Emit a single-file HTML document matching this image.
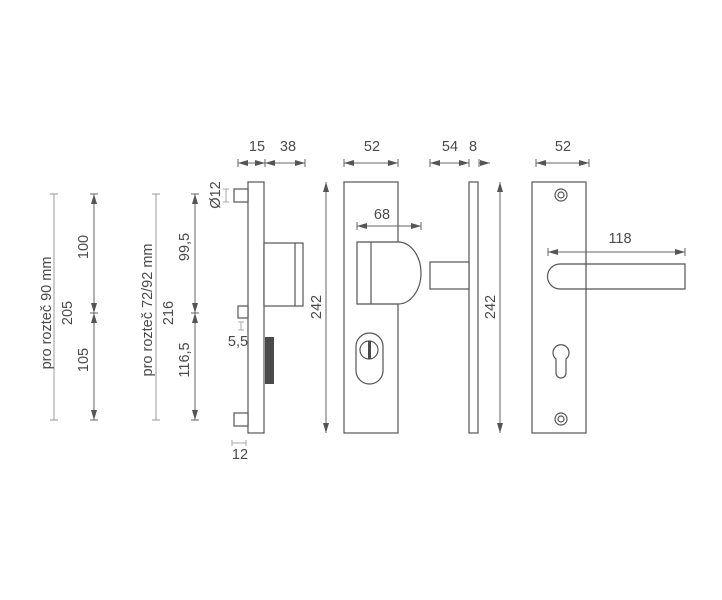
<!DOCTYPE html>
<html><head><meta charset="utf-8"><style>
html,body{margin:0;padding:0;background:#fff;}
svg{display:block;}
text{font-family:"Liberation Sans",sans-serif;font-size:14.5px;fill:#4a4a4a;}
</style></head><body>
<svg width="722" height="600" viewBox="0 0 722 600" xmlns="http://www.w3.org/2000/svg">
<defs>
<marker id="a" viewBox="0 0 10 6" refX="10" refY="3" markerWidth="10" markerHeight="6" orient="auto-start-reverse" markerUnits="userSpaceOnUse"><path d="M0,0 L10,3 L0,6 z" fill="#555"/></marker>
</defs>
<g stroke="#555" stroke-width="1.2" fill="#fff">
<rect x="248" y="182" width="16" height="251"/>
<rect x="234" y="189" width="14" height="13"/>
<rect x="238" y="306" width="10" height="12"/>
<rect x="234" y="413" width="14" height="13"/>
<rect x="264" y="243" width="39" height="63"/>
<line x1="295" y1="243" x2="295" y2="306"/>
<rect x="344" y="182" width="54" height="251"/>
<path d="M357,242 L398,242 A23,31 0 0 1 398,304 L357,304 Z"/>
<line x1="371" y1="242" x2="371" y2="304"/>
<rect x="356" y="333" width="27" height="51" rx="13.5"/>
<circle cx="369" cy="350" r="9"/>
<rect x="469" y="182" width="9" height="251"/>
<rect x="430" y="262" width="39" height="27"/>
<rect x="532" y="182" width="54" height="251"/>
<path d="M560,264 L685,264 L685,289 L560,289 A12.5,12.5 0 0 1 560,264 Z" fill="none"/>
<circle cx="561" cy="195" r="6"/><circle cx="561" cy="195" r="3"/>
<circle cx="561" cy="419" r="6"/><circle cx="561" cy="419" r="3"/>
<path d="M556,359 A8,8 0 1 1 566,359 L566,373 A5,5 0 0 1 556,373 Z"/>
</g>
<rect x="265" y="337" width="9" height="47" fill="#4a4a4a"/>
<rect x="368" y="341" width="3" height="18" fill="#4a4a4a"/>
<g stroke="#999" stroke-width="1" fill="none">
<line x1="54" y1="194" x2="54" y2="420"/><line x1="50" y1="194" x2="58" y2="194"/><line x1="50" y1="420" x2="58" y2="420"/>
<line x1="156" y1="194" x2="156" y2="420"/><line x1="152" y1="194" x2="160" y2="194"/><line x1="152" y1="420" x2="160" y2="420"/>
</g>
<g stroke="#666" stroke-width="1" fill="none">
<line x1="94" y1="194" x2="94" y2="313" marker-start="url(#a)" marker-end="url(#a)"/>
<line x1="94" y1="313" x2="94" y2="420" marker-start="url(#a)" marker-end="url(#a)"/>
<line x1="90" y1="194" x2="98" y2="194"/><line x1="90" y1="313" x2="98" y2="313"/><line x1="90" y1="420" x2="98" y2="420"/>
<line x1="195" y1="194" x2="195" y2="313" marker-start="url(#a)" marker-end="url(#a)"/>
<line x1="195" y1="313" x2="195" y2="420" marker-start="url(#a)" marker-end="url(#a)"/>
<line x1="191" y1="194" x2="199" y2="194"/><line x1="191" y1="313" x2="199" y2="313"/><line x1="191" y1="420" x2="199" y2="420"/>
<line x1="238" y1="163" x2="265" y2="163" marker-start="url(#a)" marker-end="url(#a)"/>
<line x1="265" y1="163" x2="305" y2="163" marker-start="url(#a)" marker-end="url(#a)"/>
<line x1="238" y1="159" x2="238" y2="167"/><line x1="265" y1="159" x2="265" y2="167"/><line x1="305" y1="159" x2="305" y2="167"/>
<line x1="344" y1="163" x2="398" y2="163" marker-start="url(#a)" marker-end="url(#a)"/>
<line x1="344" y1="159" x2="344" y2="167"/><line x1="398" y1="159" x2="398" y2="167"/>
<line x1="430" y1="163" x2="469" y2="163" marker-start="url(#a)" marker-end="url(#a)"/>
<line x1="479" y1="163" x2="490" y2="163" marker-end="url(#a)"/>
<line x1="430" y1="159" x2="430" y2="167"/><line x1="469" y1="159" x2="469" y2="167"/><line x1="479" y1="159" x2="479" y2="167"/>
<line x1="536" y1="163" x2="589" y2="163" marker-start="url(#a)" marker-end="url(#a)"/>
<line x1="536" y1="159" x2="536" y2="167"/><line x1="589" y1="159" x2="589" y2="167"/>
<line x1="326" y1="182" x2="326" y2="433" marker-start="url(#a)" marker-end="url(#a)"/>
<line x1="500" y1="182" x2="500" y2="433" marker-start="url(#a)" marker-end="url(#a)"/>
<line x1="357" y1="226" x2="421" y2="226" marker-start="url(#a)" marker-end="url(#a)"/>
<line x1="357" y1="222" x2="357" y2="230"/><line x1="421" y1="222" x2="421" y2="230"/>
<line x1="548" y1="252" x2="685" y2="252" marker-start="url(#a)" marker-end="url(#a)"/>
<line x1="548" y1="248" x2="548" y2="256"/><line x1="685" y1="248" x2="685" y2="256"/>
</g>
<g stroke="#aaa" stroke-width="1" fill="none">
<line x1="226" y1="189" x2="226" y2="202"/><line x1="223" y1="189" x2="229" y2="189"/><line x1="223" y1="202" x2="229" y2="202"/>
<line x1="241" y1="322" x2="241" y2="330"/><line x1="238" y1="322" x2="244" y2="322"/><line x1="238" y1="330" x2="244" y2="330"/>
<line x1="232" y1="443" x2="246" y2="443"/><line x1="232" y1="440" x2="232" y2="446"/><line x1="246" y1="440" x2="246" y2="446"/>
</g>
<g text-anchor="middle">
<text transform="translate(51,313) rotate(-90)">pro rozteč 90 mm</text>
<text transform="translate(88,247) rotate(-90)">100</text>
<text transform="translate(72,313) rotate(-90)">205</text>
<text transform="translate(88,360) rotate(-90)">105</text>
<text transform="translate(152,310) rotate(-90)">pro rozteč 72/92 mm</text>
<text transform="translate(189,247) rotate(-90)">99,5</text>
<text transform="translate(173,313) rotate(-90)">216</text>
<text transform="translate(189,360) rotate(-90)">116,5</text>
<text transform="translate(220,195) rotate(-90)">Ø12</text>
<text transform="translate(321,307) rotate(-90)">242</text>
<text transform="translate(495,307) rotate(-90)">242</text>
<text x="257" y="151">15</text>
<text x="288" y="151">38</text>
<text x="372" y="151">52</text>
<text x="450" y="151">54</text>
<text x="473" y="151">8</text>
<text x="563" y="151">52</text>
<text x="382" y="219">68</text>
<text x="620" y="243">118</text>
<text x="238" y="346">5,5</text>
<text x="240" y="459">12</text>
</g>
</svg>
</body></html>
